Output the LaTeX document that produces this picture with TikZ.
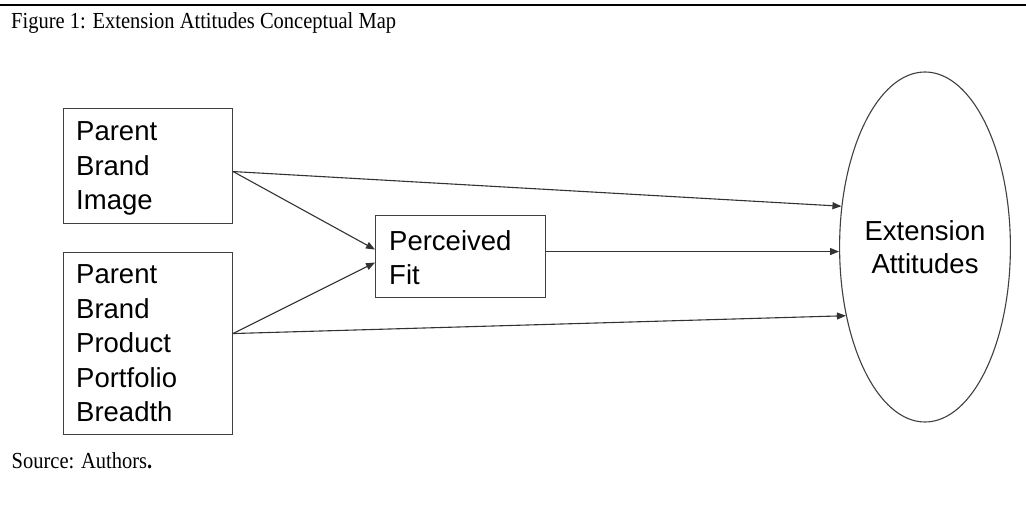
\documentclass[tikz,border=0pt]{standalone}
\usepackage{fontspec}
\setmainfont{Liberation Sans}
\newfontfamily\capserif{Liberation Serif}
\usetikzlibrary{arrows.meta,shapes.geometric}
\begin{document}
\begin{tikzpicture}[x=1pt,y=1pt,
  boxshape/.style={draw=black!75,line width=1.1pt,rectangle,inner sep=0pt,anchor=north west},
  boxtext/.style={anchor=north west,inner sep=0pt,align=left,font=\fontsize{27.5}{34.5}\selectfont},
  captext/.style={anchor=base west,inner sep=0pt,font=\capserif\fontsize{20.5}{24}\selectfont},
  arr/.style={draw=black!80,line width=1.1pt,-{Triangle[length=9pt,width=7pt]}}]
\useasboundingbox (0,0) rectangle (1026,506);
\fill[white] (0,0) rectangle (1026,506);
\coordinate (rl) at (0,501);
\coordinate (rr) at (1026,501);
\draw[line width=2pt] (rl) -- (rr);
\node[captext] (title) at (11,477.7) {\scalebox{1}[1.12]{Figure 1: Extension Attitudes Conceptual Map}};
\node[captext] (source) at (11.5,37.7) {\scalebox{1}[1.12]{Source: Authors\textbf{.}}};
% boxes
\node[boxshape,minimum width=169,minimum height=115] (b1) at (63,398) {};
\node[boxtext] (t1) at (76,384.5) {Parent\\Brand\\Image};
\node[boxshape,minimum width=169,minimum height=182] (b2) at (63,254) {};
\node[boxtext] (t2) at (76,241.3) {Parent\\Brand\\Product\\Portfolio\\Breadth};
\node[boxshape,minimum width=170,minimum height=82] (pf) at (375,291) {};
\node[boxtext] (tpf) at (389,276) {Perceived\\Fit};
\node[draw=black!75,line width=1.1pt,ellipse,minimum width=170,minimum height=350,inner sep=0pt,
  align=center,font=\fontsize{27.5}{33.3}\selectfont] (ea) at (925,259) {Extension\\Attitudes};
% connector ends
\coordinate (b1o) at ([yshift=-5.5pt]b1.east);
\coordinate (b2o) at ([yshift=10pt]b2.east);
\coordinate (pfi1) at ([yshift=7pt]pf.west);
\coordinate (pfi2) at ([yshift=-6pt]pf.west);
\coordinate (pfo) at ([yshift=5pt]pf.east);
\draw[arr] (b1o) -- (ea.154);
\draw[arr] (b1o) -- (pfi1);
\draw[arr] (b2o) -- (pfi2);
\draw[arr] (b2o) -- (ea.221);
\draw[arr] (pfo) -- (pfo -| ea.west);
\end{tikzpicture}
\end{document}
